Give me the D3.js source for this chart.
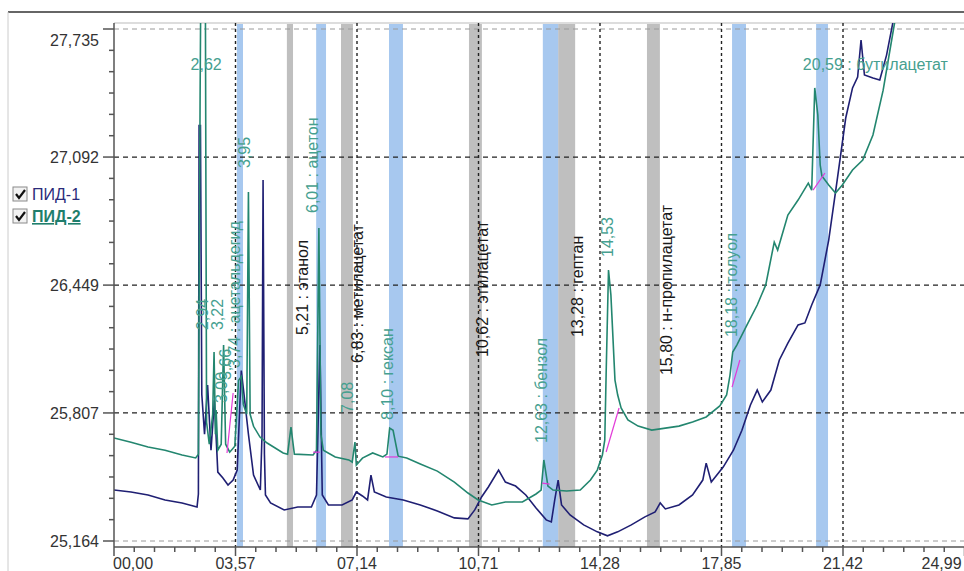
<!DOCTYPE html>
<html>
<head>
<meta charset="utf-8">
<script src="https://cdn.jsdelivr.net/npm/d3@7"></script>
<style>
body { margin: 0; background: #fff; }
svg { display: block; font-family: Arial, "Liberation Sans", sans-serif; }
</style>
</head>
<body>
<div id="chart"></div>
<script>
// ---- data ----
// ПИД-1 (navy) [time, signal]
var pid1 = [[0.00,25.420],[0.50,25.410],[1.00,25.395],[1.50,25.370],[2.00,25.355],[2.44,25.335],[2.48,25.400],[2.50,27.250],[2.54,27.250],[2.58,25.900],[2.66,25.700],[2.75,25.947],[2.85,25.620],[2.95,25.870],[3.05,25.510],[3.20,25.480],[3.35,25.445],[3.50,25.470],[3.62,25.520],[3.74,26.020],[3.82,25.900],[3.95,25.700],[4.10,25.495],[4.30,25.420],[4.35,25.700],[4.38,26.977],[4.42,25.600],[4.45,25.395],[4.60,25.355],[5.00,25.320],[5.40,25.335],[5.80,25.335],[5.95,25.395],[6.05,26.148],[6.12,25.395],[6.30,25.345],[6.70,25.345],[7.00,25.370],[7.12,25.410],[7.30,25.390],[7.45,25.370],[7.55,25.495],[7.65,25.410],[8.00,25.385],[8.50,25.370],[9.00,25.345],[9.50,25.315],[10.00,25.280],[10.40,25.275],[10.60,25.320],[10.80,25.385],[11.00,25.435],[11.30,25.520],[11.50,25.460],[11.80,25.440],[12.10,25.395],[12.40,25.330],[12.70,25.270],[12.85,25.260],[12.95,25.370],[13.05,25.470],[13.15,25.345],[13.40,25.295],[13.80,25.245],[14.20,25.210],[14.50,25.190],[14.80,25.210],[15.20,25.245],[15.60,25.285],[15.90,25.310],[16.05,25.355],[16.20,25.325],[16.60,25.345],[17.00,25.395],[17.30,25.470],[17.40,25.555],[17.55,25.460],[17.90,25.535],[18.20,25.620],[18.45,25.720],[18.70,25.847],[18.90,25.922],[19.05,25.862],[19.30,25.922],[19.55,26.073],[19.80,26.158],[20.10,26.249],[20.30,26.259],[20.50,26.349],[20.75,26.450],[21.00,26.675],[21.25,26.977],[21.50,27.288],[21.70,27.439],[21.85,27.494],[21.95,27.680],[22.05,27.504],[22.30,27.489],[22.50,27.479],[22.70,27.604],[22.90,27.780],[23.00,27.860]];

// ПИД-2 (teal) [time, signal]
var pid2 = [[0.00,25.681],[0.50,25.660],[1.00,25.636],[1.50,25.620],[2.00,25.596],[2.40,25.581],[2.48,25.600],[2.53,27.400],[2.56,28.200],[2.68,28.200],[2.72,25.760],[2.80,25.650],[2.90,25.800],[2.94,26.113],[2.98,25.700],[3.00,25.822],[3.05,25.620],[3.15,25.650],[3.22,26.148],[3.28,25.650],[3.40,25.610],[3.55,25.640],[3.66,25.970],[3.74,25.990],[3.80,25.850],[3.90,25.800],[3.95,26.916],[4.00,25.800],[4.10,25.740],[4.29,25.686],[4.50,25.656],[4.97,25.606],[5.10,25.600],[5.20,25.736],[5.30,25.600],[5.85,25.596],[5.95,25.620],[6.02,26.736],[6.08,25.700],[6.15,25.620],[6.50,25.586],[6.90,25.571],[7.00,25.560],[7.08,25.661],[7.12,25.546],[7.30,25.580],[7.60,25.606],[7.90,25.586],[8.02,25.600],[8.10,25.731],[8.20,25.720],[8.35,25.590],[8.60,25.581],[9.00,25.551],[9.50,25.515],[10.00,25.460],[10.40,25.405],[10.70,25.370],[11.10,25.345],[11.50,25.360],[12.00,25.360],[12.40,25.400],[12.55,25.420],[12.63,25.571],[12.75,25.440],[12.90,25.420],[13.30,25.415],[13.70,25.420],[14.00,25.470],[14.20,25.520],[14.35,25.596],[14.42,25.670],[14.46,26.000],[14.53,26.525],[14.60,26.400],[14.65,26.223],[14.72,25.972],[14.80,25.897],[14.90,25.832],[15.10,25.772],[15.40,25.741],[15.80,25.721],[16.20,25.731],[16.60,25.741],[17.00,25.761],[17.40,25.787],[17.80,25.842],[18.00,25.897],[18.10,25.997],[18.18,26.113],[18.30,26.148],[18.60,26.249],[18.90,26.349],[19.15,26.450],[19.40,26.665],[19.50,26.625],[19.80,26.801],[20.10,26.876],[20.40,26.961],[20.50,26.926],[20.59,27.439],[20.68,27.303],[20.75,27.052],[20.80,26.997],[21.00,26.952],[21.20,26.911],[21.40,26.952],[21.70,27.027],[22.00,27.077],[22.30,27.203],[22.60,27.428],[22.90,27.730],[23.00,27.830]];

// integration baselines [t0, v0, t1, v1]
var baselines = [[3.32,25.606,3.50,25.907],[5.85,25.610,6.05,25.610],[7.96,25.586,8.35,25.586],[12.58,25.455,12.80,25.450],[14.46,25.611,14.84,25.832],[18.16,25.937,18.39,26.073],[20.54,26.926,20.89,27.012]];

// retention windows
var blueBands = [[3.61,3.79],[5.94,6.23],[8.08,8.49],[12.60,13.05],[18.16,18.57],[20.63,20.98]];
var grayBands = [[5.08,5.26],[6.67,7.02],[10.43,10.81],[13.05,13.55],[15.66,16.04]];

// peak / component labels
var labelText = ["2,62","2,94","3,22","3,00","3,66","3,74 : ацетальдегид","3,95","5,21 : этанол","6,01 : ацетон","6,83 : метилацетат","7,08","8,10 : гексан","10,62 : этилацетат","12,63 : бензол","13,28 : гептан","14,53","15,80 : н-пропилацетат","18,18 : толуол","20,59 : бутилацетат"];
var labelTime = [2.25,2.76,3.20,3.32,3.44,3.70,4.00,5.70,5.99,7.32,7.02,8.20,10.99,12.72,13.78,14.66,16.40,18.31,20.24];
var labelValue = [27.529,26.223,26.223,25.857,25.972,26.033,27.037,26.198,26.811,26.058,25.807,25.772,26.088,25.656,26.188,26.590,25.997,26.188,27.529];
var labelKind = ["p","p","p","p","p","p","p","c","p","c","p","p","c","p","c","p","c","p","p"];
var labelAngle = [0,-90,-90,-90,-90,-90,-90,-90,-90,-90,-90,-90,-90,-90,-90,-90,-90,-90,0];

// axes
var xTicks = [0, 3.57, 7.14, 10.71, 14.28, 17.85, 21.42, 24.99];
var xTickLabels = ["00,00","03,57","07,14","10,71","14,28","17,85","21,42","24,99"];
var yTicks = [25.164, 25.807, 26.449, 27.092, 27.735];
var yTickLabels = ["25,164","25,807","26,449","27,092","27,735"];

var seriesNames = ["ПИД-1", "ПИД-2"];

// ---- drawing ----
var width = 964, height = 571;
var plot = {left: 114, right: 964, top: 23, bottom: 547};
var navy = "#1f1f73", teal = "#23866f", tealText = "#46a08f";

var svg = d3.select("#chart").append("svg")
    .attr("width", width)
    .attr("height", height);

var x = d3.scaleLinear().domain([0, 24.99]).range([114, 964.5]);
var y = d3.scaleLinear().domain([25.164, 27.735]).range([541, 29]);

// outer frame
svg.append("line").attr("x1", 8).attr("x2", width).attr("y1", 12).attr("y2", 12)
    .attr("stroke", "#333").attr("stroke-width", 1.5);
svg.append("line").attr("x1", 8).attr("x2", 8).attr("y1", 12).attr("y2", height)
    .attr("stroke", "#ccc");
svg.append("line").attr("x1", plot.left).attr("x2", plot.right).attr("y1", plot.top).attr("y2", plot.top)
    .attr("stroke", "#bbb");

// bands
svg.append("g").selectAll("rect")
    .data(grayBands)
    .join("rect")
    .attr("x", d => x(d[0]))
    .attr("width", d => x(d[1]) - x(d[0]))
    .attr("y", plot.top + 1)
    .attr("height", plot.bottom - plot.top - 1)
    .attr("fill", "#bfbfbf");

svg.append("g").selectAll("rect")
    .data(blueBands)
    .join("rect")
    .attr("x", d => x(d[0]))
    .attr("width", d => x(d[1]) - x(d[0]))
    .attr("y", plot.top + 1)
    .attr("height", plot.bottom - plot.top - 1)
    .attr("fill", "#a7c8ef");

// grid
svg.append("g").selectAll("line")
    .data(yTicks)
    .join("line")
    .attr("x1", plot.left).attr("x2", plot.right)
    .attr("y1", d => y(d)).attr("y2", d => y(d))
    .attr("stroke", (d, i) => (i == 0 || i == yTicks.length - 1) ? "#9a9a9a" : "#222")
    .attr("stroke-width", (d, i) => (i == 0 || i == yTicks.length - 1) ? 1 : 1.3)
    .attr("stroke-dasharray", "5,4");

svg.append("g").selectAll("line")
    .data(xTicks.slice(1, -1))
    .join("line")
    .attr("x1", d => x(d)).attr("x2", d => x(d))
    .attr("y1", plot.top).attr("y2", plot.bottom)
    .attr("stroke", "#222")
    .attr("stroke-width", 1.4)
    .attr("stroke-dasharray", "3,3");

// traces
svg.append("clipPath").attr("id", "clip")
    .append("rect")
    .attr("x", plot.left).attr("y", plot.top)
    .attr("width", plot.right - plot.left).attr("height", plot.bottom - plot.top);

var line = d3.line().x(d => x(d[0])).y(d => y(d[1]));
var traces = svg.append("g").attr("clip-path", "url(#clip)");

traces.append("path").datum(pid1)
    .attr("d", line).attr("fill", "none")
    .attr("stroke", navy).attr("stroke-width", 1.6);

traces.append("path").datum(pid2)
    .attr("d", line).attr("fill", "none")
    .attr("stroke", teal).attr("stroke-width", 1.6);

traces.selectAll(".base")
    .data(baselines)
    .join("line")
    .attr("class", "base")
    .attr("x1", d => x(d[0])).attr("y1", d => y(d[1]))
    .attr("x2", d => x(d[2])).attr("y2", d => y(d[3]))
    .attr("stroke", "#e23ad8").attr("stroke-width", 1.2);

// labels
svg.append("g").selectAll("text")
    .data(labelText)
    .join("text")
    .attr("transform", (d, i) => "translate(" + x(labelTime[i]) + "," + y(labelValue[i]) + ") rotate(" + labelAngle[i] + ")")
    .attr("font-size", 16)
    .attr("fill", (d, i) => labelKind[i] == "p" ? tealText : "#1a1a1a")
    .text(d => d);

// y axis
var yAxis = svg.append("g");
yAxis.append("line").attr("x1", plot.left).attr("x2", plot.left)
    .attr("y1", plot.top).attr("y2", plot.bottom)
    .attr("stroke", "#555").attr("stroke-width", 1.5);

var yMinor = [];
for (var i = 0; i < yTicks.length - 1; i++) {
    var step = (yTicks[i + 1] - yTicks[i]) / 6;
    for (var k = 1; k < 6; k++) yMinor.push(yTicks[i] + k * step);
}
yAxis.selectAll(".ymin").data(yMinor).join("line").attr("class", "ymin")
    .attr("x1", plot.left - 5).attr("x2", plot.left)
    .attr("y1", d => y(d)).attr("y2", d => y(d))
    .attr("stroke", "#555").attr("stroke-width", 1.5);
yAxis.selectAll(".ymaj").data(yTicks).join("line").attr("class", "ymaj")
    .attr("x1", plot.left - 11).attr("x2", plot.left)
    .attr("y1", d => y(d)).attr("y2", d => y(d))
    .attr("stroke", "#555").attr("stroke-width", 1.5);
yAxis.selectAll("text").data(yTickLabels).join("text")
    .attr("x", 99)
    .attr("y", (d, i) => Math.max(y(yTicks[i]), 40) + 6)
    .attr("text-anchor", "end")
    .attr("font-size", 16)
    .attr("fill", "#333")
    .text(d => d);

// x axis
var xAxis = svg.append("g");
xAxis.append("line").attr("x1", plot.left).attr("x2", plot.right)
    .attr("y1", plot.bottom).attr("y2", plot.bottom)
    .attr("stroke", "#555").attr("stroke-width", 1.5);

var xMinor = [];
for (var j = 0; j < xTicks.length - 1; j++) {
    var xs = (xTicks[j + 1] - xTicks[j]) / 6;
    for (var m = 1; m < 6; m++) xMinor.push(xTicks[j] + m * xs);
}
xAxis.selectAll(".xmin").data(xMinor).join("line").attr("class", "xmin")
    .attr("x1", d => x(d)).attr("x2", d => x(d))
    .attr("y1", plot.bottom).attr("y2", plot.bottom + 5)
    .attr("stroke", "#555").attr("stroke-width", 1.5);
xAxis.selectAll(".xmaj").data(xTicks).join("line").attr("class", "xmaj")
    .attr("x1", d => x(d)).attr("x2", d => x(d))
    .attr("y1", plot.bottom).attr("y2", plot.bottom + 9)
    .attr("stroke", "#555").attr("stroke-width", 1.5);
xAxis.selectAll("text").data(xTickLabels).join("text")
    .attr("x", (d, i) => i == 0 ? plot.left - 1 : (i == xTicks.length - 1 ? x(xTicks[i]) - 43 : x(xTicks[i])))
    .attr("y", 569)
    .attr("text-anchor", (d, i) => (i == 0 || i == xTicks.length - 1) ? "start" : "middle")
    .attr("font-size", 16)
    .attr("fill", "#333")
    .text(d => d);

// legend
var legend = svg.append("g");
var legendY = [194, 216];
seriesNames.forEach(function (name, i) {
    var g = legend.append("g").attr("transform", "translate(13," + (legendY[i] - 7) + ")");
    g.append("rect").attr("width", 14).attr("height", 14)
        .attr("fill", "#f2f2f2").attr("stroke", "#8a8a8a");
    g.append("path").attr("d", "M3,7 L6,11 L12,3")
        .attr("fill", "none").attr("stroke", "#111").attr("stroke-width", 2.2);
    var t = legend.append("text")
        .attr("x", 32).attr("y", legendY[i] + 6)
        .attr("font-size", 16)
        .attr("fill", i == 0 ? "#2b2b7a" : "#1f7e6c")
        .attr("font-weight", i == 0 ? "normal" : "bold")
        .text(name);
    if (i == 1) t.attr("text-decoration", "underline");
});
</script>
</body>
</html>
